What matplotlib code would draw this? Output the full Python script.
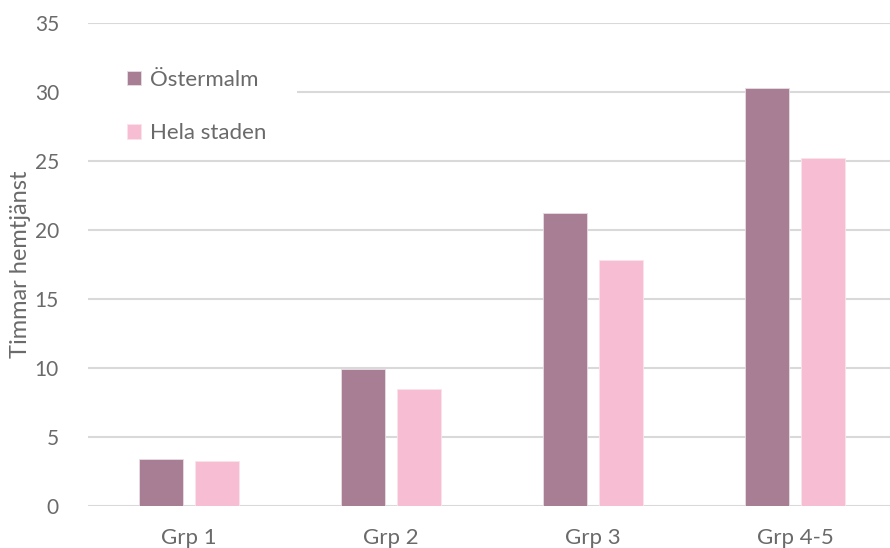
import matplotlib.pyplot as plt
import matplotlib.patches as mpatches
import numpy as np

groups = ['Grp 1', 'Grp 2', 'Grp 3', 'Grp 4-5']
ostermalm = [3.4, 9.9, 21.2, 30.25]
hela_staden = [3.25, 8.45, 17.85, 25.2]
series_names = ['Östermalm', 'Hela staden']

c_ost = '#A87E95'
c_hela = '#F7BDD2'
grey = '#6A6A6A'

plt.rcParams['font.family'] = ['Lato', 'DejaVu Sans']

fig = plt.figure(figsize=(8.9, 5.48), dpi=100)
ax = fig.add_axes([0.099, 0.0766, 0.901, 0.882])

x = np.arange(len(groups))
w = 0.218
off = 0.139
ax.bar(x - off, ostermalm, w, color=c_ost, edgecolor='#E8DCE3', linewidth=0.6,
       label=series_names[0], zorder=3)
ax.bar(x + off, hela_staden, w, color=c_hela, edgecolor='#FBE3EC', linewidth=0.6,
       label=series_names[1], zorder=3)

ax.set_ylim(0, 35)
ax.set_yticks(range(0, 36, 5))
ax.set_xlim(-0.5, 3.47)
ax.set_xticks(x)
ax.set_xticklabels(groups)

ax.yaxis.grid(True, color='#D9D9D9', linewidth=1.5, zorder=0)
ax.set_axisbelow(True)
for s in ax.spines.values():
    s.set_visible(False)
ax.tick_params(axis='both', length=0, labelcolor=grey)
ax.tick_params(axis='y', pad=21, labelsize=15)
ax.tick_params(axis='x', pad=16, labelsize=16)

ax.set_ylabel('Timmar hemtjänst', fontsize=17, color=grey)
ax.yaxis.set_label_coords(-0.071, 0.5)

# white box behind the legend hides the gridline it sits on
ax.add_patch(mpatches.Rectangle((0, 28.3), 0.261, 3.4, transform=ax.get_yaxis_transform(),
                                facecolor='white', edgecolor='none', zorder=1))

ax.legend(loc='upper left', bbox_to_anchor=(0.130, 0.893), bbox_transform=fig.transFigure,
          frameon=False, fontsize=16, labelcolor=grey, labelspacing=1.5,
          handlelength=0.65, handleheight=0.65, handletextpad=0.4, borderpad=0)

fig.savefig('out.png', dpi=100)
